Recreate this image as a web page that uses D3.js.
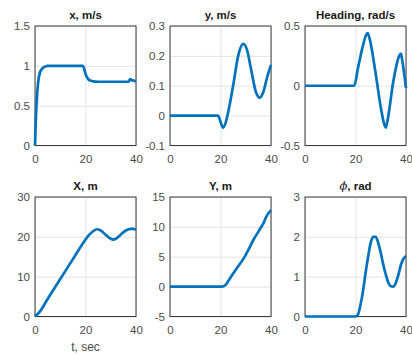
<!DOCTYPE html>
<html>
<head>
<meta charset="utf-8">
<script src="https://cdn.jsdelivr.net/npm/d3@7"></script>
<style>
  body { margin: 0; background: #fff; }
  svg { display: block; font-family: "Liberation Sans", Arial, sans-serif; }
</style>
</head>
<body>
<div id="chart"></div>
<script>
// time axis shared by all panels
const timeDomain = [0, 40];
const timeTicks = [0, 20, 40];

// body velocities
const xVel = [[0,0],[0.3,0.3],[0.7,0.57],[1.2,0.78],[2,0.92],[3,0.97],[4,0.99],[5,1],[10,1],[15,1],[19,1],
  [19.5,0.96],[20,0.9],[20.7,0.85],[21.5,0.82],[23,0.805],[25,0.8],[30,0.8],[35,0.8],[37,0.8],
  [37.4,0.82],[37.8,0.835],[38.3,0.82],[39,0.815],[40,0.805]];
const yVel = [[0,0],[10,0],[19,0],[20,-0.02],[21,-0.04],[22,-0.025],[23,0.01],[25,0.1],[27,0.2],[29,0.24],
  [30.5,0.22],[32,0.16],[34,0.08],[35.5,0.06],[37,0.08],[38.5,0.13],[40,0.17]];
const headingRate = [[0,0],[10,0],[19.5,0],[21,0.15],[23,0.34],[24.3,0.43],[24.8,0.44],[25.5,0.4],[28,0.1],
  [30,-0.18],[31.5,-0.33],[32,-0.35],[32.6,-0.3],[35,0.04],[37.3,0.25],[38,0.27],[38.6,0.2],[40,-0.02]];

// positions and heading
const posX = [[0,0],[2,1.3],[5,4.4],[10,9.4],[15,14.4],[19,18.4],[21,20.2],[23,21.4],[24.5,21.9],[26,21.6],
  [28,20.5],[30,19.5],[31,19.3],[32,19.5],[34,20.6],[36,21.6],[38,22],[39,22],[40,21.8]];
const posY = [[0,0],[10,0],[20,0],[21,0.05],[22,0.3],[23,0.9],[25,2.2],[27,3.4],[29,4.6],[31,6.1],
  [33,7.8],[35,9.2],[36,9.9],[37,10.6],[38,11.6],[40,12.8]];
const phi = [[0,0],[10,0],[20,0],[21,0.05],[22,0.3],[23,0.65],[24,1.1],[25,1.5],[26,1.85],[27,2.0],[28,2.0],
  [29,1.85],[30,1.6],[31,1.3],[32,1.05],[33,0.85],[34,0.76],[35,0.75],[36,0.85],[37,1.05],[38,1.3],[39,1.45],[40,1.52]];

// y ticks per panel
const xVelTicks = [0, 0.5, 1, 1.5];
const yVelTicks = [-0.1, 0, 0.1, 0.2, 0.3];
const headingTicks = [-0.5, 0, 0.5];
const posXTicks = [0, 10, 20, 30];
const posYTicks = [-5, 0, 5, 10, 15];
const phiTicks = [0, 1, 2, 3];

const panels = [
  { title: 'x, m/s', data: xVel, ticks: xVelTicks, col: 0, row: 0 },
  { title: 'y, m/s', data: yVel, ticks: yVelTicks, col: 1, row: 0 },
  { title: 'Heading, rad/s', data: headingRate, ticks: headingTicks, col: 2, row: 0 },
  { title: 'X, m', data: posX, ticks: posXTicks, col: 0, row: 1 },
  { title: 'Y, m', data: posY, ticks: posYTicks, col: 1, row: 1 },
  { title: 'phi', data: phi, ticks: phiTicks, col: 2, row: 1 },
];

const WIDTH = 412, HEIGHT = 354;
const colX = [35, 170, 305];
const rowY = [26, 197];
const W = 101, H = 119.5;

const svg = d3.select('#chart').append('svg')
  .attr('width', WIDTH)
  .attr('height', HEIGHT);

const xScale = d3.scaleLinear().domain(timeDomain).range([0, W]);

panels.forEach(p => {
  const ticks = p.ticks;
  const yScale = d3.scaleLinear().domain([ticks[0], ticks[ticks.length - 1]]).range([H, 0]);
  const g = svg.append('g').attr('transform', `translate(${colX[p.col]},${rowY[p.row]})`);

  // x grid + labels
  const xAxis = g.append('g')
    .attr('transform', `translate(0,${H})`)
    .call(d3.axisBottom(xScale).tickValues(timeTicks).tickSize(-H).tickPadding(9).tickFormat(d3.format('d')));
  // y grid + labels
  const yAxis = g.append('g')
    .call(d3.axisLeft(yScale).tickValues(ticks).tickSize(-W).tickPadding(5).tickFormat(d => String(d)));

  [xAxis, yAxis].forEach(ax => {
    ax.select('.domain').remove();
    ax.selectAll('line').attr('stroke', '#e3e3e3').attr('stroke-width', 1);
    ax.selectAll('text').attr('fill', '#4a4a4a').style('font-size', '11.5px');
  });

  // plot box
  g.append('rect')
    .attr('width', W).attr('height', H)
    .attr('fill', 'none')
    .attr('stroke', '#3a3a3a')
    .attr('stroke-width', 1);

  const line = d3.line()
    .x(d => xScale(d[0]))
    .y(d => yScale(d[1]))
    .curve(d3.curveMonotoneX);

  g.append('path')
    .datum(p.data)
    .attr('fill', 'none')
    .attr('stroke', '#0072bd')
    .attr('stroke-width', 2.7)
    .attr('stroke-linejoin', 'round')
    .attr('d', line);

  const title = g.append('text')
    .attr('x', W / 2)
    .attr('y', -7)
    .attr('text-anchor', 'middle')
    .style('font-size', '11.5px')
    .style('font-weight', 'bold')
    .attr('fill', '#1a1a1a');
  if (p.title === 'phi') {
    title.append('tspan').style('font-style', 'italic').style('font-family', '"DejaVu Serif", serif').style('font-weight', 'normal').text('\u03D5');
    title.append('tspan').text(', rad');
  } else {
    title.text(p.title);
  }
});

svg.append('text')
  .attr('x', colX[0] + W / 2)
  .attr('y', 351)
  .attr('text-anchor', 'middle')
  .style('font-size', '12px')
  .attr('fill', '#4a4a4a')
  .text('t, sec');
</script>
</body>
</html>
